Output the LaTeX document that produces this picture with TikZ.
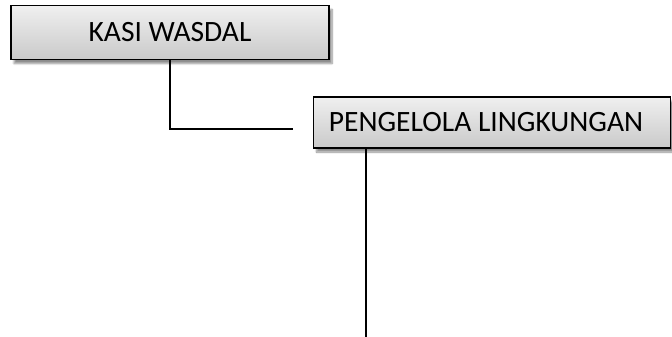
\documentclass[tikz,border=0pt]{standalone}
\usepackage{fontspec}
\setmainfont{Carlito}
\usetikzlibrary{shadows.blur}
\begin{document}
\begin{tikzpicture}[x=1pt,y=-1pt,
  orgbox/.style={draw=black, line width=1.6pt, top color=gray!12, bottom color=gray!42,
    blur shadow={shadow xshift=3pt, shadow yshift=-4pt, shadow blur steps=8, shadow opacity=45},
    inner sep=0pt, font=\fontsize{29.5}{33}\selectfont},
  conn/.style={line width=1.5pt, draw=black}]
\useasboundingbox (0,0) rectangle (672,337);
\node[orgbox, minimum width=318pt, minimum height=54pt] (kasi) at (170,32.5) {KASI WASDAL};
\node[orgbox, minimum width=357pt, minimum height=51pt] (peng) at (492,122.5) {\hspace*{-12pt}PENGELOLA LINGKUNGAN};
\coordinate (hend) at (293,129);
\coordinate (vend) at (366,337);
\draw[conn] (kasi.south -| 170,0) |- (hend);
\draw[conn] (peng.south -| vend) -- (vend);
\end{tikzpicture}
\end{document}
